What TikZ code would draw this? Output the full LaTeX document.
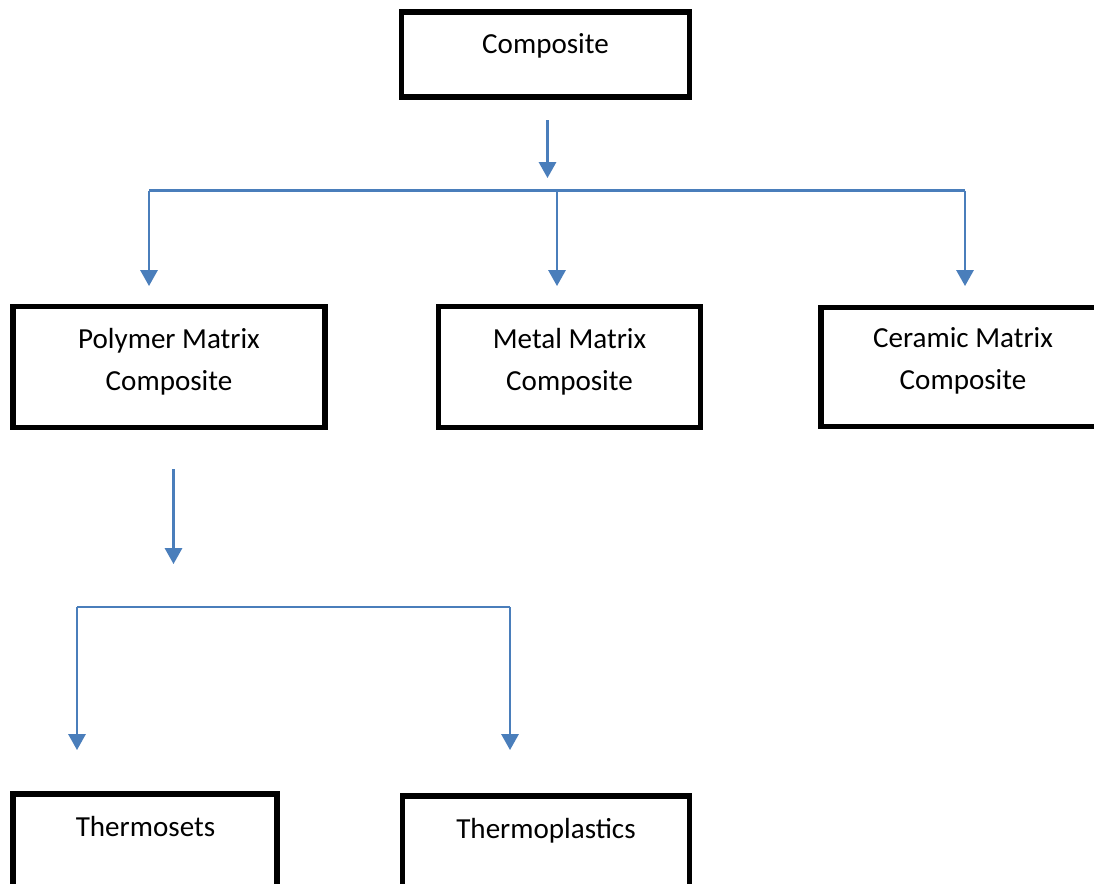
\documentclass[tikz,border=0pt]{standalone}
\usepackage{fontspec}
\setmainfont{Carlito}
\usetikzlibrary{arrows.meta}
\definecolor{arrowblue}{HTML}{4A7EBB}
\tikzset{
  boxnode/.style={draw=black, line width=4pt, rectangle, inner sep=0pt, outer sep=0pt},
  lbl/.style={font=\fontsize{21.8}{31.5}\selectfont, align=center, inner sep=0pt, anchor=base},
  arr/.style={draw=arrowblue, line width=1.6pt, -{Triangle[width=13pt,length=12pt]}},
  conn/.style={draw=arrowblue, line width=1.6pt},
}
\begin{document}
\begin{tikzpicture}[x=0.75pt, y=-0.75pt]
\useasboundingbox (0,0) rectangle (1094,883);
\clip (0,0) rectangle (1094,883);
\fill[white] (0,0) rectangle (1094,883);
% boxes
\node[boxnode, minimum width=216pt, minimum height=63.75pt] (comp) at (545.5,54.5) {};
\node[boxnode, minimum width=234pt, minimum height=90.75pt] (poly) at (169,367) {};
\node[boxnode, minimum width=196.5pt, minimum height=90.75pt] (metal) at (569.5,367) {};
\node[boxnode, minimum width=213pt, minimum height=89.25pt] (cer) at (963,367) {};
\node[boxnode, minimum width=198pt, minimum height=90.75pt] (tset) at (145,854.5) {};
\node[boxnode, minimum width=215.6pt, minimum height=90.75pt] (tplas) at (546,856.5) {};
% labels
\node[lbl] (tcomp) at (545.5,53) {Composite};
\node[lbl] (tpoly) at (169,390) {Polymer Matrix\\Composite};
\node[lbl] (tmetal) at (569.5,390) {Metal Matrix\\Composite};
\node[lbl] (tcer) at (963,389) {Ceramic Matrix\\Composite};
\node[lbl] (ttset) at (145.5,836) {Thermosets};
\node[lbl] (ttplas) at (546,838) {Thermoplastics};
% connector coordinates
\coordinate (a1s) at (547.5,120);
\coordinate (a1e) at (547.5,178);
\coordinate (hl) at (149,190.5);
\coordinate (hm) at (557,190.5);
\coordinate (hr) at (965,190.5);
\coordinate (tl) at (149,286);
\coordinate (tm) at (557,286);
\coordinate (tr) at (965,286);
\coordinate (a2s) at (173.5,469);
\coordinate (a2e) at (173.5,564);
\coordinate (gl) at (77,607);
\coordinate (gr) at (510,607);
\coordinate (ul) at (77,750);
\coordinate (ur) at (510,750);
% connectors
\draw[arr] (a1s) -- (a1e);
\draw[conn] (hl) -- (hr);
\draw[arr] (hl) -- (tl);
\draw[arr] (hm) -- (tm);
\draw[arr] (hr) -- (tr);
\draw[arr] (a2s) -- (a2e);
\draw[conn] (gl) -- (gr);
\draw[arr] (gl) -- (ul);
\draw[arr] (gr) -- (ur);
\end{tikzpicture}
\end{document}
